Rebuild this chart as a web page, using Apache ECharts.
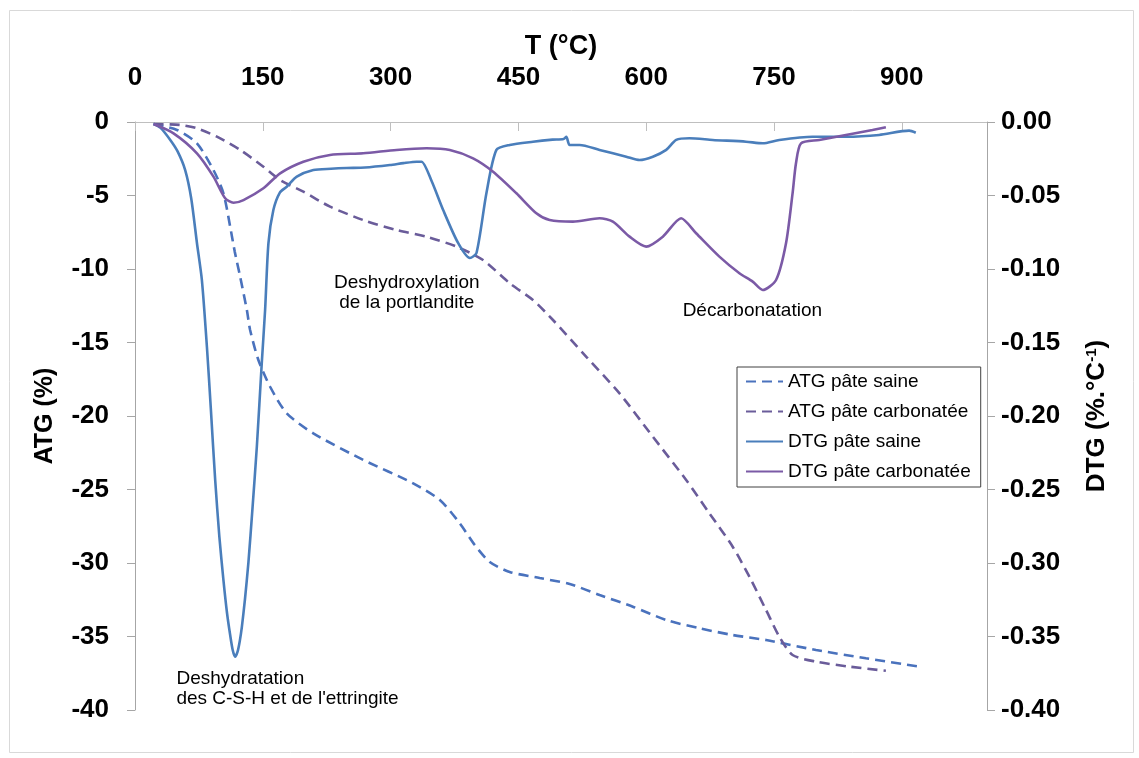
<!DOCTYPE html>
<html>
<head>
<meta charset="utf-8">
<script src="https://cdn.jsdelivr.net/npm/echarts@6/dist/echarts.min.js"></script>
<style>
  html, body { margin: 0; padding: 0; background: #fff; }
  #chart { width: 1139px; height: 758px; }
</style>
</head>
<body>
<div id="chart"></div>
<script>
// ---- data (T in °C, ATG in %, DTG in %.°C-1) ----
const seriesNames = ['ATG pâte saine', 'ATG pâte carbonatée', 'DTG pâte saine', 'DTG pâte carbonatée'];

const atgSaine = [[21.8,-0.14],[49.2,-0.54],[72.7,-1.45],[92.1,-3.27],[103.8,-4.85],[111.7,-7.12],[117,-8.8],[123.4,-10.52],[131.3,-12.79],[135.1,-14.15],[144.8,-16.19],[158.6,-18.01],[178.1,-19.82],[209.3,-21.18],[267.9,-22.99],[326.5,-24.58],[357.8,-25.71],[381.2,-27.3],[398.8,-28.78],[416.4,-29.93],[439.8,-30.61],[475,-31.02],[510.2,-31.43],[545.3,-32.18],[584.3,-32.97],[623.5,-33.88],[662.5,-34.44],[701.5,-34.9],[740.7,-35.24],[799.3,-35.92],[857.9,-36.48],[920.3,-37.05]];

const atgCarbonatee = [[21.8,-0.14],[53.1,-0.2],[72.7,-0.43],[96.1,-1.0],[123.4,-1.9],[150.7,-3.04],[170.3,-3.95],[197.6,-4.74],[228.9,-5.76],[267.9,-6.67],[307,-7.35],[342.2,-7.8],[377.4,-8.48],[408.5,-9.39],[439.8,-10.97],[467.1,-12.11],[490.6,-13.47],[529.7,-15.97],[568.7,-18.46],[607.8,-21.41],[646.9,-24.35],[674.2,-26.62],[701.5,-28.89],[721.1,-30.93],[740.7,-33.2],[756.2,-35.01],[771.8,-36.26],[799.3,-36.71],[838.4,-37.05],[881.3,-37.33]];

const dtgSaine = [[21.8,-0.0014],[30,-0.004],[41.4,-0.0122],[50,-0.02],[58.9,-0.0327],[66,-0.052],[72.7,-0.0823],[78.5,-0.1075],[84.4,-0.1529],[89,-0.195],[94.1,-0.2435],[99,-0.282],[103.8,-0.3116],[108,-0.334],[111.7,-0.349],[114.6,-0.359],[117.5,-0.3638],[120.3,-0.3605],[123,-0.353],[125.4,-0.3436],[129,-0.325],[133.1,-0.2997],[138,-0.262],[143,-0.2209],[148.8,-0.1639],[152.7,-0.1279],[156.6,-0.0825],[162.4,-0.0599],[170,-0.048],[178.1,-0.044],[189.9,-0.0372],[209.3,-0.0327],[230,-0.0318],[248.4,-0.0313],[270,-0.031],[299.2,-0.0293],[315,-0.028],[330.5,-0.027],[336.3,-0.027],[348,-0.04],[361.7,-0.0599],[379.2,-0.0823],[393,-0.0925],[400.8,-0.0891],[412.5,-0.0483],[424.2,-0.019],[439.8,-0.0156],[467.1,-0.0134],[490,-0.012],[503,-0.0115],[506.3,-0.0101],[510.1,-0.0156],[521.9,-0.0156],[545.3,-0.019],[576.6,-0.0236],[592.2,-0.0259],[607.8,-0.0236],[623.5,-0.019],[635.2,-0.0122],[650.8,-0.0111],[678.1,-0.0122],[717.2,-0.0134],[736.7,-0.0145],[756.2,-0.0122],[795.3,-0.01],[834.4,-0.01],[873.4,-0.0088],[908.6,-0.0059],[916.4,-0.0073]];

const dtgCarbonatee = [[21.8,-0.0014],[45.2,-0.0077],[72.7,-0.0213],[92.1,-0.0372],[105.8,-0.0519],[115.6,-0.0549],[127.3,-0.0531],[150.7,-0.0451],[170.3,-0.0349],[197.6,-0.027],[228.9,-0.0224],[267.9,-0.0213],[307,-0.019],[342.2,-0.0179],[369.5,-0.019],[396.8,-0.0247],[420.3,-0.0338],[447.7,-0.0485],[471.1,-0.0621],[486.7,-0.0667],[514,-0.0678],[545.3,-0.0655],[560.9,-0.0678],[580.5,-0.078],[600,-0.0848],[619.5,-0.078],[641,-0.0655],[658.6,-0.0757],[685.9,-0.0916],[709.4,-0.1029],[725,-0.1086],[736.7,-0.1143],[752.4,-0.1075],[764.1,-0.0825],[771.8,-0.0485],[775.8,-0.0281],[781.7,-0.0145],[803.1,-0.0122],[834.4,-0.0088],[865.6,-0.0054],[881.3,-0.0036]];

// annotations placed at (T, ATG) data coordinates
const annotations = [
  { text: "Deshydratation\ndes C-S-H et de l'ettringite", T: 48.6, ATG: -38.54, align: 'left' },
  { text: 'Deshydroxylation\nde la portlandite', T: 319, ATG: -11.62, align: 'center' },
  { text: 'Décarbonatation', T: 724.6, ATG: -12.84, align: 'center' }
];

// ---- chart ----
const FONT = "'Liberation Sans', Arial, sans-serif";
const chart = echarts.init(document.getElementById('chart'), null, { renderer: 'canvas' });

function lineSeries(name, data, color, axis, dashed) {
  return {
    name: name,
    type: 'line',
    yAxisIndex: axis,
    data: data,
    symbol: 'none',
    showSymbol: false,
    smooth: 0.25,
    color: color,
    lineStyle: { color: color, width: 2.6, type: dashed ? [10, 6] : 'solid' },
    z: dashed ? 2 : 3
  };
}

const s0 = lineSeries(seriesNames[0], atgSaine, '#4a72bd', 0, true);
s0.markPoint = {
  symbol: 'circle',
  symbolSize: 0,
  silent: true,
  data: annotations.map(a => ({
    coord: [a.T, a.ATG],
    label: {
      show: true,
      position: 'inside',
      formatter: a.text,
      align: a.align,
      verticalAlign: 'middle',
      fontFamily: FONT,
      fontSize: 19,
      lineHeight: 20,
      color: '#000'
    }
  }))
};

const option = {
  animation: false,
  backgroundColor: '#fff',
  textStyle: { fontFamily: FONT },
  graphic: [{
    type: 'rect',
    left: 7, top: 8,
    shape: { width: 1124, height: 742 },
    style: { fill: 'none', stroke: '#d9d9d9', lineWidth: 1 },
    silent: true
  }],
  grid: { left: 135, right: 152, top: 122, bottom: 48, containLabel: false },
  legend: {
    data: seriesNames,
    orient: 'vertical',
    left: 737,
    top: 367,
    itemWidth: 37,
    itemHeight: 14,
    itemGap: 11,
    padding: [5, 10, 6, 8],
    borderColor: '#404040',
    borderWidth: 1,
    backgroundColor: '#fff',
    itemStyle: { color: 'rgba(0,0,0,0)', borderWidth: 0, borderColor: 'rgba(0,0,0,0)' },
    textStyle: { fontFamily: FONT, fontSize: 19, color: '#000' }
  },
  xAxis: {
    type: 'value',
    position: 'top',
    min: 0, max: 1000, interval: 150,
    name: 'T (°C)',
    nameLocation: 'middle',
    nameGap: 60,
    nameTextStyle: { fontFamily: FONT, fontSize: 27, fontWeight: 'bold', color: '#000' },
    axisLine: { show: true, lineStyle: { color: '#bfbfbf', width: 1 } },
    axisTick: { show: true, inside: true, length: 9, lineStyle: { color: '#bfbfbf' } },
    axisLabel: { fontFamily: FONT, fontSize: 26, fontWeight: 'bold', color: '#000', margin: 31, showMaxLabel: false },
    splitLine: { show: false }
  },
  yAxis: [{
    type: 'value',
    position: 'left',
    min: -40, max: 0, interval: 5,
    name: 'ATG (%)',
    nameLocation: 'middle',
    nameGap: 77,
    nameTextStyle: { fontFamily: FONT, fontSize: 25, fontWeight: 'bold', color: '#000' },
    axisLine: { show: true, lineStyle: { color: '#a6a6a6', width: 1 } },
    axisTick: { show: true, inside: false, length: 8, lineStyle: { color: '#a6a6a6' } },
    axisLabel: { fontFamily: FONT, fontSize: 26, fontWeight: 'bold', color: '#000', margin: 26 },
    splitLine: { show: false }
  }, {
    type: 'value',
    position: 'right',
    min: -0.4, max: 0, interval: 0.05,
    name: 'DTG (%.°C{sup|-1})',
    nameLocation: 'middle',
    nameGap: 97,
    nameTextStyle: {
      fontFamily: FONT, fontSize: 26, fontWeight: 'bold', color: '#000',
      rich: { sup: { fontFamily: FONT, fontSize: 15, fontWeight: 'bold', color: '#000', verticalAlign: 'top', padding: [0, 0, 10, 0] } }
    },
    axisLine: { show: true, lineStyle: { color: '#a6a6a6', width: 1 } },
    axisTick: { show: true, inside: false, length: 8, lineStyle: { color: '#a6a6a6' } },
    axisLabel: {
      fontFamily: FONT, fontSize: 26, fontWeight: 'bold', color: '#000', margin: 14,
      formatter: v => (Math.abs(v) < 1e-9 ? '0.00' : v.toFixed(2))
    },
    splitLine: { show: false }
  }],
  series: [
    s0,
    lineSeries(seriesNames[1], atgCarbonatee, '#6a5c9a', 0, true),
    lineSeries(seriesNames[2], dtgSaine, '#4a7ebb', 1, false),
    lineSeries(seriesNames[3], dtgCarbonatee, '#7b5aa6', 1, false)
  ]
};
chart.setOption(option);
</script>
</body>
</html>
